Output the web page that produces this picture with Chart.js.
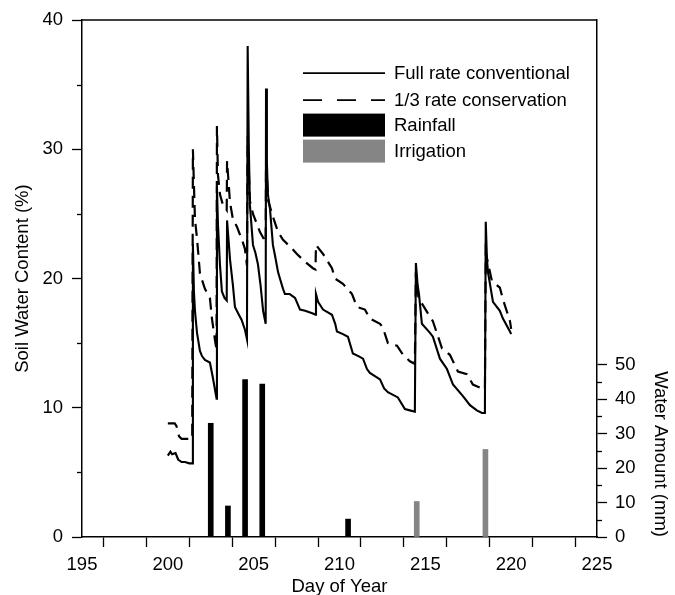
<!DOCTYPE html>
<html>
<head>
<meta charset="utf-8">
<script src="https://cdn.jsdelivr.net/npm/chart.js@4.4.0/dist/chart.umd.min.js"></script>
<style>
  html, body { margin: 0; padding: 0; background: #fff; }
  #chart { display: block; }
</style>
</head>
<body>
<canvas id="chart" width="675" height="595"></canvas>
<script>
// soil water content (%), [day of year, value]
const fullRate = [
    [200.00, 6.3], [200.15, 6.6], [200.25, 6.4], [200.45, 6.5], [200.60, 6.0], [200.80, 5.8],
    [201.00, 5.8], [201.25, 5.7], [201.42, 5.7], [201.46, 22.7], [201.52, 19.0], [201.58, 17.5],
    [201.70, 15.8], [201.87, 14.4], [201.99, 14.0], [202.16, 13.7], [202.45, 13.5], [202.60, 12.5],
    [202.84, 10.7], [202.86, 27.1], [202.92, 24.2], [203.04, 21.0], [203.15, 19.0], [203.30, 18.5],
    [203.43, 18.3], [203.45, 24.5], [203.62, 21.5], [203.79, 19.5], [203.91, 17.8], [204.10, 17.3],
    [204.30, 16.8], [204.50, 16.0], [204.61, 15.3], [204.65, 38.0], [204.72, 30.0], [204.78, 25.7],
    [204.96, 22.6], [205.10, 22.0], [205.25, 21.1], [205.40, 19.5], [205.55, 17.5], [205.70, 16.5],
    [205.72, 34.7], [205.77, 29.0], [205.83, 26.5], [205.95, 25.4], [206.12, 22.6], [206.24, 21.8],
    [206.42, 20.5], [206.53, 20.0], [206.71, 19.2], [206.82, 18.8], [207.10, 18.8], [207.41, 18.5],
    [207.70, 17.6], [208.00, 17.5], [208.45, 17.3], [208.60, 17.2], [208.63, 18.8], [208.75, 18.2],
    [209.04, 17.6], [209.56, 17.2], [209.75, 16.5], [209.85, 15.9], [210.20, 15.7], [210.49, 15.5],
    [210.78, 14.2], [211.10, 14.0], [211.37, 13.8], [211.60, 13.0], [211.77, 12.7], [212.36, 12.2],
    [212.60, 11.5], [212.82, 11.2], [213.40, 10.8], [213.81, 9.9], [214.10, 9.8], [214.39, 9.7],
    [214.45, 21.2], [214.55, 19.5], [214.63, 18.8], [214.80, 16.5], [215.27, 15.8], [215.44, 15.5],
    [215.85, 13.8], [216.26, 13.0], [216.61, 11.8], [217.19, 10.9], [217.60, 10.2], [218.00, 9.8],
    [218.30, 9.6], [218.47, 9.6], [218.52, 24.4], [218.59, 21.5], [218.65, 20.5], [218.94, 18.2],
    [219.34, 17.5], [219.52, 16.9], [219.93, 15.9], [220.00, 15.7]
];

const conservation = [
    [200.00, 8.8], [200.40, 8.8], [200.50, 8.6], [200.65, 7.8], [200.80, 7.6], [201.42, 7.6],
    [201.46, 30.0], [201.58, 24.6], [201.70, 23.1], [201.87, 20.4], [202.16, 19.2], [202.45, 18.5],
    [202.57, 16.9], [202.75, 15.2], [202.84, 14.5], [202.86, 31.8], [202.92, 28.0], [203.04, 26.5],
    [203.21, 25.7], [203.43, 25.3], [203.45, 29.1], [203.62, 25.9], [203.79, 24.6], [204.03, 24.0],
    [204.20, 23.4], [204.32, 23.0], [204.49, 22.3], [204.61, 21.0], [204.65, 31.0], [204.78, 26.0],
    [204.96, 25.0], [205.37, 23.6], [205.70, 22.8], [205.72, 29.0], [205.85, 26.0], [206.12, 24.8],
    [206.42, 23.6], [206.71, 23.0], [206.94, 22.7], [207.11, 22.5], [207.52, 21.9], [207.99, 21.3],
    [208.45, 20.8], [208.60, 20.7], [208.63, 22.6], [209.04, 21.9], [209.56, 20.8], [209.74, 20.0],
    [210.20, 19.6], [210.73, 18.8], [211.02, 17.8], [211.48, 17.6], [211.77, 16.9], [212.36, 16.5],
    [212.53, 16.2], [212.65, 15.7], [212.82, 15.0], [213.35, 14.8], [213.70, 14.1], [214.10, 13.6],
    [214.39, 13.4], [214.45, 20.5], [214.60, 18.5], [215.15, 17.3], [215.44, 16.7], [215.97, 14.6],
    [216.43, 14.1], [216.90, 12.8], [217.42, 12.6], [217.77, 11.8], [218.30, 11.5], [218.47, 11.4],
    [218.52, 22.0], [218.88, 19.8], [219.34, 19.3], [219.52, 18.4], [219.93, 16.7], [220.00, 16.1]
];

// water amounts (mm)
const rainDays = [202.5, 203.5, 204.5, 205.5, 210.5];
const rainMm = [33, 9, 45.7, 44.4, 5.2];
const irrigDays = [214.5, 218.5];
const irrigMm = [10.3, 25.4];

// axes
const xTicks = [195, 197.5, 200, 202.5, 205, 207.5, 210, 212.5, 215, 217.5, 220, 222.5, 225];
const xLabels = ['195', '', '200', '', '205', '', '210', '', '215', '', '220', '', '225'];
const leftTicks = [0, 10, 20, 30, 40];
const leftMinor = [5, 15, 25, 35];
const rightTicks = [0, 10, 20, 30, 40, 50];
const rightMinor = [5, 15, 25, 35, 45];

const legendItems = [
    { label: 'Full rate conventional', kind: 'line', dash: [] },
    { label: '1/3 rate conservation', kind: 'line', dash: [19, 15] },
    { label: 'Rainfall', kind: 'box', color: '#000000' },
    { label: 'Irrigation', kind: 'box', color: '#858585' }
];

const FONT = 'Liberation Sans, Arial, Helvetica, sans-serif';
const tickFont = { family: FONT, size: 18.5 };
const titleFont = { family: FONT, size: 18.5, lineHeight: 1 };

const toPoints = rows => rows.map(([x, y]) => ({ x, y }));
const zipPoints = (xs, ys) => xs.map((x, i) => ({ x, y: ys[i] }));

const frameAndLegend = {
    id: 'frameAndLegend',
    afterDraw(chart) {
        const { ctx, chartArea: a, scales } = chart;
        ctx.save();
        ctx.strokeStyle = '#000';

        // top of the frame
        ctx.lineWidth = 1.5;
        ctx.beginPath();
        ctx.moveTo(a.left, a.top);
        ctx.lineTo(a.right, a.top);
        ctx.stroke();

        // minor ticks, shorter than the major ones
        ctx.lineWidth = 1.3;
        leftMinor.forEach(v => {
            const y = Math.round(scales.y.getPixelForValue(v)) + 0.5;
            ctx.beginPath(); ctx.moveTo(a.left - 5, y); ctx.lineTo(a.left, y); ctx.stroke();
        });
        rightMinor.forEach(v => {
            const y = Math.round(scales.y2.getPixelForValue(v)) + 0.5;
            ctx.beginPath(); ctx.moveTo(a.right, y); ctx.lineTo(a.right + 5, y); ctx.stroke();
        });

        // legend inside the plot, top right
        const x0 = a.left + 221, x1 = a.left + 303, tx = a.left + 312;
        const rows = [53, 80, 105, 131];
        ctx.font = '18.5px ' + FONT;
        ctx.textBaseline = 'middle';
        ctx.textAlign = 'left';
        legendItems.forEach((item, i) => {
            const cy = a.top + rows[i];
            if (item.kind === 'line') {
                ctx.lineWidth = 1.6;
                ctx.setLineDash(item.dash);
                ctx.beginPath(); ctx.moveTo(x0, cy); ctx.lineTo(x1, cy); ctx.stroke();
                ctx.setLineDash([]);
            } else {
                ctx.fillStyle = item.color;
                ctx.fillRect(x0, cy - 11.5, x1 - x0, 23);
            }
            ctx.fillStyle = '#000';
            ctx.fillText(item.label, tx, cy + 1);
        });
        ctx.restore();
    }
};

new Chart(document.getElementById('chart'), {
    type: 'line',
    data: {
        datasets: [
            {
                label: 'Full rate conventional',
                data: toPoints(fullRate),
                borderColor: '#000',
                borderWidth: 2.1,
                pointRadius: 0,
                fill: false,
                tension: 0,
                yAxisID: 'y'
            },
            {
                label: '1/3 rate conservation',
                data: toPoints(conservation),
                borderColor: '#000',
                borderWidth: 2.2,
                borderDash: [12, 7],
                pointRadius: 0,
                fill: false,
                tension: 0,
                yAxisID: 'y'
            },
            {
                type: 'bar',
                label: 'Rainfall',
                data: zipPoints(rainDays, rainMm),
                backgroundColor: '#000000',
                barThickness: 5,
                grouped: false,
                yAxisID: 'y2'
            },
            {
                type: 'bar',
                label: 'Irrigation',
                data: zipPoints(irrigDays, irrigMm),
                backgroundColor: '#858585',
                barThickness: 5,
                grouped: false,
                yAxisID: 'y2'
            }
        ]
    },
    options: {
        responsive: false,
        animation: false,
        layout: { padding: { top: 17, left: 0, right: 0, bottom: 0 } },
        plugins: {
            legend: { display: false },
            tooltip: { enabled: false }
        },
        scales: {
            x: {
                type: 'linear',
                min: 195,
                max: 225,
                offset: false,
                afterBuildTicks: s => { s.ticks = xTicks.map(v => ({ value: v })); },
                afterFit: s => { s.height = 58; },
                ticks: {
                    autoSkip: false,
                    maxRotation: 0,
                    padding: 7,
                    color: '#000',
                    font: tickFont,
                    callback: (v, i) => xLabels[i]
                },
                grid: { drawOnChartArea: false, tickLength: 10, tickColor: '#000', tickWidth: 1.3 },
                border: { color: '#000', width: 1.5 },
                title: {
                    display: true,
                    text: 'Day of Year',
                    color: '#000',
                    font: titleFont,
                    padding: { top: 0, bottom: -1 }
                }
            },
            y: {
                position: 'left',
                min: 0,
                max: 40,
                afterBuildTicks: s => { s.ticks = leftTicks.map(v => ({ value: v })); },
                afterFit: s => { s.width = 82; },
                ticks: { padding: 9, color: '#000', font: tickFont },
                grid: { drawOnChartArea: false, tickLength: 10, tickColor: '#000', tickWidth: 1.3 },
                border: { color: '#000', width: 1.5 },
                title: {
                    display: true,
                    text: 'Soil Water Content (%)',
                    color: '#000',
                    font: titleFont,
                    padding: { top: 14, bottom: 0 }
                }
            },
            y2: {
                position: 'right',
                min: 0,
                max: 150,
                afterBuildTicks: s => { s.ticks = rightTicks.map(v => ({ value: v })); },
                afterFit: s => { s.width = 78; },
                ticks: { padding: 8, color: '#000', font: tickFont },
                grid: { drawOnChartArea: false, tickLength: 10, tickColor: '#000', tickWidth: 1.3 },
                border: { color: '#000', width: 1.5 },
                title: {
                    display: true,
                    text: 'Water Amount (mm)',
                    align: 'start',
                    color: '#000',
                    font: titleFont,
                    padding: { top: 6, bottom: 0 }
                }
            }
        }
    },
    plugins: [frameAndLegend]
});
</script>
</body>
</html>
